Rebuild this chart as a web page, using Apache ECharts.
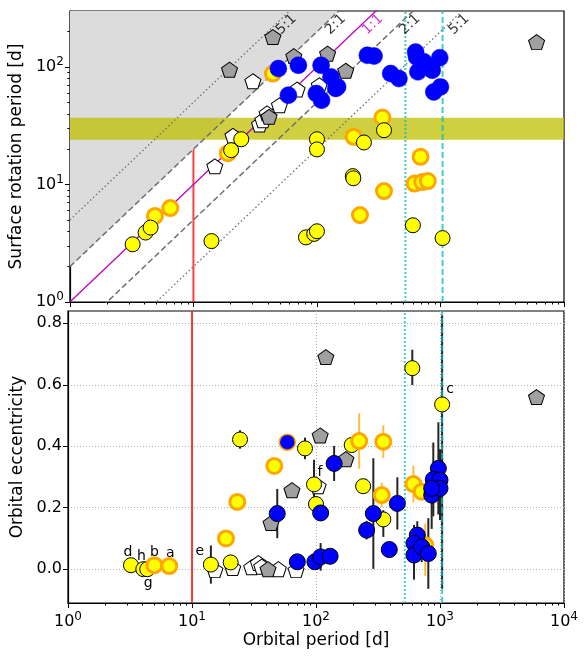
<!DOCTYPE html>
<html>
<head>
<meta charset="utf-8">
<script src="https://cdn.jsdelivr.net/npm/echarts@6/dist/echarts.min.js"></script>
<style>
  html, body { margin: 0; padding: 0; background: #fff; }
  #chart { width: 587px; height: 659px; }
</style>
</head>
<body>
<div id="chart"></div>
<script>
// ---- top panel: [Porb, Prot] ----
var rotYellow = [[3.22,3.1],[4.1,3.9],[4.5,4.3],[14.0,3.3],[81.5,3.55],[95,3.8],[100,4.0],
  [20.2,19.6],[24.4,24.3],[100,24.3],[100,19.9],[195,11.8],[197,11.3],[598,4.5],[1040,3.5],
  [349,29.0],[240,22.8]];
var rotOrange = [[4.88,5.4],[6.5,6.3],[19,18.5],[44,88],[339,37.2],[198,25.5],[690,17.2],
  [617,10.2],[712,10.5],[790,10.7],[349,8.8],[223,5.5]];
var rotBlue = [[48.7,97],[70.7,103.5],[108,103.5],[130,82.4],[147,67.8],[58.7,57.6],[98.8,59.5],
  [109,52.2],[142,65.8],[256,126],[290,124],[395,88],[461,79.8],[629,134],[640,122],[733,111],
  [656,91],[857,94],[987,120],[883,61.4],[1000,67.8]];
var rotGray = [[44,180],[19.6,95],[65,124],[122,130],[41,37.7],[171,93],[6000,163]];
var rotWhite = [[14.9,14.3],[20.9,26],[30.3,75.7],[34.3,32.5],[36.5,35.3],[39.5,40.3],
  [49.7,47.3],[69,64.4],[104.5,70]];

// ---- bottom panel: [Porb, e, errLow, errHigh, tag] ----
var eccYellow = [[3.22,0.013,0,0,'d'],[4.05,0.0,0,0,'h'],[4.36,0.0,0,0,'g'],
  [14.2,0.015,0.062,0.062,'e'],[20.5,0.022,0,0],[24.4,0.422,0.03,0.03],[81.5,0.393,0.035,0.035],
  [96.4,0.276,0.08,0.08,'f'],[100,0.212,0,0],[194,0.404,0,0],[240,0.27,0.02,0.02],
  [349,0.162,0.057,0.03],[598,0.654,0.055,0.06],[1040,0.536,0.6,0.29,'c']];
var eccOrange = [[4.97,0.013,0,0,'b'],[6.56,0.01,0,0,'a'],[18.8,0.1,0,0],[23.2,0.219,0,0],
  [46.1,0.336,0,0],[223,0.417,0.09,0.09],[349,0.415,0.053,0.053],[339,0.241,0.04,0.04],
  [610,0.277,0.06,0.06],[712,0.252,0,0],[760,0.078,0.1,0.07]];
var eccBlue = [[48.7,0.181,0.08,0.08],[70.7,0.024,0,0],[98,0.024,0,0],[109,0.04,0.045,0.045],
  [130,0.042,0,0],[109,0.183,0,0],[140,0.344,0.057,0.057],[256,0.127,0.03,0.03],
  [290,0.181,0.18,0.18],[390,0.064,0.015,0.015],[453,0.214,0.085,0.085],[656,0.111,0.045,0.045],
  [617,0.084,0.06,0.06],[617,0.046,0.08,0.06],[712,0.073,0.05,0.05],[805,0.051,0.115,0.115],
  [857,0.241,0.11,0.06],[970,0.328,0.15,0.15],[883,0.292,0.12,0.12],[1000,0.29,0.13,0.1],
  [1000,0.263,0.1,0.1],[857,0.263,0,0]];
var eccBlueOrange = [[58.7,0.413,0,0]];
var eccGray = [[120,0.69],[108,0.435],[174,0.358],[64,0.257],[43.4,0.15],[41,0.0],[6000,0.56]];
var eccWhite = [[15.3,-0.003],[21.3,0.004],[30.3,0.006],[34.3,0.02],[36.5,0.008],[49.7,0.0],
  [69,-0.003],[104,0.27]];

// reference lines / regions
var ratios = [5, 2, 1, 0.5, 0.2];          // Prot / Porb
var ratioTags = ['5:1', '2:1', '1:1', '2:1', '5:1'];
var solarBand = [24, 37];                   // Prot range [d]
var tidalLimit = 10;                        // Porb [d]
var cyanDotted = 520, cyanDashed = 1040;    // Porb [d]

var X_MIN = 1, X_MAX = 10000, Y_MIN = 1, Y_MAX = 300, E_MIN = -0.11, E_MAX = 0.84;
var FONT = 'DejaVu Sans';
var PENTA = 'path://M0,-1L0.951,-0.309L0.588,0.809L-0.588,0.809L-0.951,-0.309Z';

var majorLog = [1, 10, 100, 1000, 10000];
var minorLog = [];
[1, 10, 100, 1000].forEach(function (d) { for (var i = 2; i <= 9; i++) minorLog.push(d * i); });
var minorRot = minorLog.filter(function (v) { return v < Y_MAX; });

function powLabel(v) {
  return '{b|10}{s|' + Math.round(Math.log10(v)) + '}';
}
var powRich = {
  b: { fontSize: 16, fontFamily: FONT, color: '#000', lineHeight: 20 },
  s: { fontSize: 12, fontFamily: FONT, color: '#000', padding: [0, 0, 10, 0] }
};

function logX(grid, labels) {
  return [{
    type: 'log', logBase: 10, gridIndex: grid, min: X_MIN, max: X_MAX, position: 'bottom',
    axisLine: { onZero: false, lineStyle: { color: '#000', width: 1.2 } },
    axisTick: { customValues: majorLog, length: 5, lineStyle: { color: '#000' } },
    axisLabel: labels ? { customValues: majorLog, formatter: powLabel, rich: powRich, margin: 8 } : { show: false },
    splitLine: labels ? { show: true, lineStyle: { color: '#b0b0b0', type: [1, 2] } } : { show: false },
    name: labels ? 'Orbital period [d]' : '', nameLocation: 'middle', nameGap: 29,
    nameTextStyle: { fontSize: 17, fontFamily: FONT, color: '#000' }
  }, {
    type: 'log', logBase: 10, gridIndex: grid, min: X_MIN, max: X_MAX, position: 'bottom',
    axisLine: { show: false, onZero: false }, axisLabel: { show: false }, splitLine: { show: false },
    axisTick: { customValues: minorLog, length: 2.5, lineStyle: { color: '#000' } }
  }];
}

var xAxes = logX(0, false).concat(logX(1, true));
var yAxes = [{
  type: 'log', logBase: 10, gridIndex: 0, min: Y_MIN, max: Y_MAX, position: 'left',
  axisLine: { show: true, onZero: false, lineStyle: { color: '#000', width: 1.2 } },
  axisTick: { show: true, customValues: [1, 10, 100], length: 5, lineStyle: { color: '#000' } },
  axisLabel: { customValues: [1, 10, 100], formatter: powLabel, rich: powRich, margin: 6 },
  splitLine: { show: false },
  name: 'Surface rotation period [d]', nameLocation: 'middle', nameGap: 42,
  nameTextStyle: { fontSize: 17, fontFamily: FONT, color: '#000' }
}, {
  type: 'log', logBase: 10, gridIndex: 0, min: Y_MIN, max: Y_MAX, position: 'left',
  axisLine: { show: false, onZero: false }, axisLabel: { show: false }, splitLine: { show: false },
  axisTick: { show: true, customValues: minorRot, length: 2.5, lineStyle: { color: '#000' } }
}, {
  type: 'value', gridIndex: 1, min: E_MIN, max: E_MAX, position: 'left',
  axisLine: { show: true, onZero: false, lineStyle: { color: '#000', width: 1.2 } },
  axisTick: { show: true, customValues: [0, 0.2, 0.4, 0.6, 0.8], length: 5, lineStyle: { color: '#000' } },
  axisLabel: { customValues: [0, 0.2, 0.4, 0.6, 0.8], fontSize: 16, fontFamily: FONT, color: '#000', margin: 6,
    formatter: function (v) { return v.toFixed(1); } },
  splitLine: { show: true, lineStyle: { color: '#b0b0b0', type: [1, 2] } },
  name: 'Orbital eccentricity', nameLocation: 'middle', nameGap: 40,
  nameTextStyle: { fontSize: 17, fontFamily: FONT, color: '#000' }
}];

var series = [];

// ---------- top panel ----------
function vline(xv, xi, yi, y0, y1, style, z) {
  series.push({ type: 'line', xAxisIndex: xi, yAxisIndex: yi, z: z, silent: true, symbol: 'none',
    data: [[xv, y0], [xv, y1]], lineStyle: style });
}
vline(tidalLimit, 0, 0, Y_MIN, Y_MAX, { color: 'rgba(255,0,0,0.75)', width: 2 }, 1);

// gray region above the 2:1 line
series.push({ type: 'custom', xAxisIndex: 0, yAxisIndex: 0, z: 2, silent: true, data: [[X_MIN, Y_MAX]],
  renderItem: function (p, api) {
    var k = 2;
    var pts = [api.coord([X_MIN, k * X_MIN]), api.coord([Y_MAX / k, Y_MAX]), api.coord([X_MIN, Y_MAX])];
    return { type: 'polygon', shape: { points: pts }, style: { fill: '#dcdcdc' } };
  } });

// solar-like band
series.push({ type: 'custom', xAxisIndex: 0, yAxisIndex: 0, z: 3, silent: true, data: [solarBand],
  renderItem: function (p, api) {
    var a = api.coord([X_MIN, api.value(1)]), b = api.coord([X_MAX, api.value(0)]);
    return { type: 'rect', shape: { x: a[0], y: a[1], width: b[0] - a[0], height: b[1] - a[1] },
      style: { fill: 'rgba(191,191,0,0.75)' } };
  } });

// ratio lines
ratios.forEach(function (k) {
  var st;
  if (k === 1) st = { color: '#bf00bf', width: 1.3 };
  else if (k === 2 || k === 0.5) st = { color: '#707070', width: 1.5, type: [6, 3] };
  else st = { color: '#707070', width: 1.3, type: [1.5, 2.5] };
  series.push({ type: 'line', xAxisIndex: 0, yAxisIndex: 0, z: 4, silent: true, symbol: 'none', clip: true,
    data: [[X_MIN, k * X_MIN], [X_MAX, k * X_MAX]], lineStyle: st });
});
var TAG_Y = 230;
series.push({ type: 'scatter', xAxisIndex: 0, yAxisIndex: 0, z: 5, silent: true, symbolSize: 0,
  data: ratios.map(function (k, i) {
    return { value: [TAG_Y / k * 1.23, TAG_Y], label: { formatter: ratioTags[i], color: k === 1 ? '#bf00bf' : '#000' } };
  }),
  label: { show: true, position: 'inside', rotate: 43.6, fontSize: 14, fontFamily: FONT } });

vline(cyanDotted, 0, 0, Y_MIN, Y_MAX, { color: 'rgba(0,191,191,0.75)', width: 2, type: [2, 2] }, 4);
vline(cyanDashed, 0, 0, Y_MIN, Y_MAX, { color: 'rgba(0,191,191,0.75)', width: 2, type: [6, 3] }, 4);

function scat(xi, yi, data, sym, size, style, z) {
  series.push({ type: 'scatter', xAxisIndex: xi, yAxisIndex: yi, z: z, silent: true, symbol: sym,
    symbolSize: size, itemStyle: style, data: data });
}
var stWhite = { color: '#fff', borderColor: '#000', borderWidth: 1, opacity: 1 };
var stGray = { color: '#a0a0a0', borderColor: '#000', borderWidth: 1, opacity: 1 };
var stOrange = { color: '#ffff00', borderColor: '#ffa500', borderWidth: 3, opacity: 1 };
var stYellow = { color: '#ffff00', borderColor: '#000', borderWidth: 1, opacity: 1 };

scat(0, 0, rotWhite, PENTA, [16, 15], stWhite, 6);
scat(0, 0, rotGray, PENTA, [16, 15], stGray, 6);
scat(0, 0, rotOrange, 'circle', 15, stOrange, 6);
scat(0, 0, rotYellow, 'circle', 15, stYellow, 6);
scat(0, 0, rotBlue, 'circle', 17, { color: '#0000ff', borderColor: '#0000ff', borderWidth: 0.5, opacity: 1 }, 6);

// ---------- bottom panel ----------
function errSeries(list, color) {
  series.push({ type: 'custom', xAxisIndex: 2, yAxisIndex: 2, z: 3, silent: true,
    data: list.filter(function (d) { return d[2] || d[3]; }).map(function (d) { return [d[0], d[1], d[2], d[3]]; }),
    renderItem: function (p, api) {
      var x = api.value(0), y = api.value(1);
      var a = api.coord([x, y - api.value(2)]), b = api.coord([x, y + api.value(3)]);
      return { type: 'line', shape: { x1: a[0], y1: a[1], x2: b[0], y2: b[1] },
        style: { stroke: color, lineWidth: 2 } };
    } });
}
errSeries(eccYellow, '#262626');
errSeries(eccBlue, '#262626');
errSeries(eccOrange, 'rgba(255,165,0,0.75)');

vline(tidalLimit, 2, 2, E_MIN, E_MAX, { color: 'rgba(255,0,0,0.75)', width: 2 }, 4);
vline(cyanDotted, 2, 2, E_MIN, E_MAX, { color: 'rgba(0,191,191,0.75)', width: 2, type: [2, 2] }, 4);
vline(cyanDashed, 2, 2, E_MIN, E_MAX, { color: 'rgba(0,191,191,0.75)', width: 2, type: [6, 3] }, 4);

var tagOffset = { d: [-3, -13], h: [-2, -13], g: [1, 14], b: [0, -13], a: [1, -13], e: [-11, -13], f: [6, -12], c: [8, -15] };
function withTags(list) {
  return list.map(function (d) {
    var item = { value: [d[0], d[1]] };
    if (d[4]) item.label = { show: true, formatter: d[4], position: 'inside', offset: tagOffset[d[4]],
      fontSize: 14, fontFamily: FONT, color: '#000' };
    return item;
  });
}

scat(2, 2, eccWhite, PENTA, [16, 15], stWhite, 6);
scat(2, 2, eccGray, PENTA, [16, 15], stGray, 6);
scat(2, 2, withTags(eccYellow), 'circle', 15, stYellow, 6);
scat(2, 2, withTags(eccOrange), 'circle', 15, stOrange, 6);
scat(2, 2, eccBlueOrange.map(function (d) { return [d[0], d[1]]; }), 'circle', 16,
  { color: '#0000ff', borderColor: '#ffa500', borderWidth: 1.5, opacity: 1 }, 6);
scat(2, 2, eccBlue.map(function (d) { return [d[0], d[1]]; }), 'circle', 16,
  { color: '#0000ff', borderColor: '#000', borderWidth: 1, opacity: 1 }, 6);

var chart = echarts.init(document.getElementById('chart'));
chart.setOption({
  animation: false,
  backgroundColor: '#fff',
  textStyle: { fontFamily: FONT },
  grid: [
    { left: 68, top: 11, width: 496, height: 291, show: true, borderColor: '#000', borderWidth: 1.2, backgroundColor: 'transparent' },
    { left: 68, top: 311, width: 496, height: 292, show: true, borderColor: '#000', borderWidth: 1.2, backgroundColor: 'transparent' }
  ],
  xAxis: xAxes,
  yAxis: yAxes,
  series: series
});
</script>
</body>
</html>
